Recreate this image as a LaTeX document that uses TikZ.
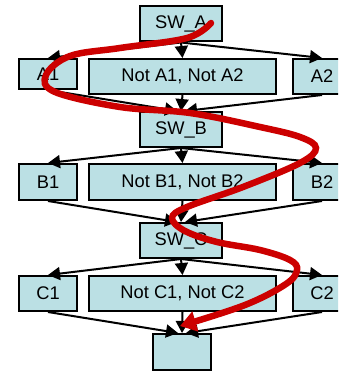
\documentclass[tikz,border=0pt]{standalone}
\usepackage{fontspec}
\setmainfont{Liberation Sans}
\usetikzlibrary{arrows.meta}

\definecolor{boxfill}{RGB}{187,224,228}
\definecolor{pathred}{RGB}{204,0,0}

\tikzset{
  blk/.style={draw=black, line width=2pt, fill=boxfill, inner sep=0pt,
    font=\fontsize{18.3}{20}\selectfont},
  swbox/.style={blk, minimum width=82pt, minimum height=35pt},
  sidebox/.style={blk, minimum width=58pt},
  midbox/.style={blk, minimum width=187pt, minimum height=35pt},
  edge/.style={line width=2pt, -{Triangle[length=12pt,width=13pt]}},
  route/.style={draw=pathred, line width=6.5pt, line cap=round,
    -{Triangle[length=16pt,width=20pt]}},
}

\begin{document}
\begin{tikzpicture}[x=1pt,y=-1pt]
\clip (0,0) rectangle (338,371);

% switch A and its three branches
\node[swbox] (swa) at (181,24) {SW\_A};
\node[sidebox, minimum height=30pt] (a1) at (48,74) {A1};
\node[midbox] (na) at (182.5,76.5) {Not A1, Not A2};
\node[sidebox, minimum height=35pt] (a2) at (322,76.5) {A2};

% switch B
\node[swbox] (swb) at (181,129.5) {SW\_B};
\node[sidebox, minimum height=36pt] (b1) at (48,182) {B1};
\node[midbox, minimum height=36pt] (nb) at (182.5,182) {Not B1, Not B2};
\node[sidebox, minimum height=36pt] (b2) at (322,182) {B2};

% switch C
\node[swbox] (swc) at (181,240.5) {SW\_C};
\node[sidebox, minimum height=35pt] (c1) at (48,293.5) {C1};
\node[midbox] (nc) at (182.5,293.5) {Not C1, Not C2};
\node[sidebox, minimum height=35pt] (c2) at (322,293.5) {C2};

% end
\node[blk, minimum width=58pt, minimum height=36pt] (fin) at (182,352) {};

% fan out / fan in
\draw[edge] (swa.south) -- (a1.north);
\draw[edge] (swa.south) -- (na.north);
\draw[edge] (swa.south) -- (a2.north);
\draw[edge] (a1.south) -- ([xshift=-4pt]swb.north);
\draw[edge] (na.south) -- (swb.north);
\draw[edge] (a2.south) -- ([xshift=4pt]swb.north);

\draw[edge] (swb.south) -- (b1.north);
\draw[edge] (swb.south) -- (nb.north);
\draw[edge] (swb.south) -- (b2.north);
\draw[edge] (b1.south) -- ([xshift=-4pt]swc.north);
\draw[edge] (nb.south) -- (swc.north);
\draw[edge] (b2.south) -- ([xshift=4pt]swc.north);

\draw[edge] (swc.south) -- (c1.north);
\draw[edge] (swc.south) -- (nc.north);
\draw[edge] (swc.south) -- (c2.north);
\draw[edge] (c1.south) -- ([xshift=-4pt]fin.north);
\draw[edge] (nc.south) -- (fin.north);
\draw[edge] (c2.south) -- ([xshift=4pt]fin.north);

% the winding path through the switches
\draw[route] plot[smooth, tension=0.6] coordinates {
  (211,23) (187,38) (120,48) (70,56) (46,75) (55,92) (120,107) (190,113)
  (260,127) (300,137) (316,148) (300,163) (243,187) (187,207) (172,218)
  (185,231) (217,242) (260,250) (290,260) (297,270) (286,284) (245,305)
  (180,326)};

\end{tikzpicture}
\end{document}
